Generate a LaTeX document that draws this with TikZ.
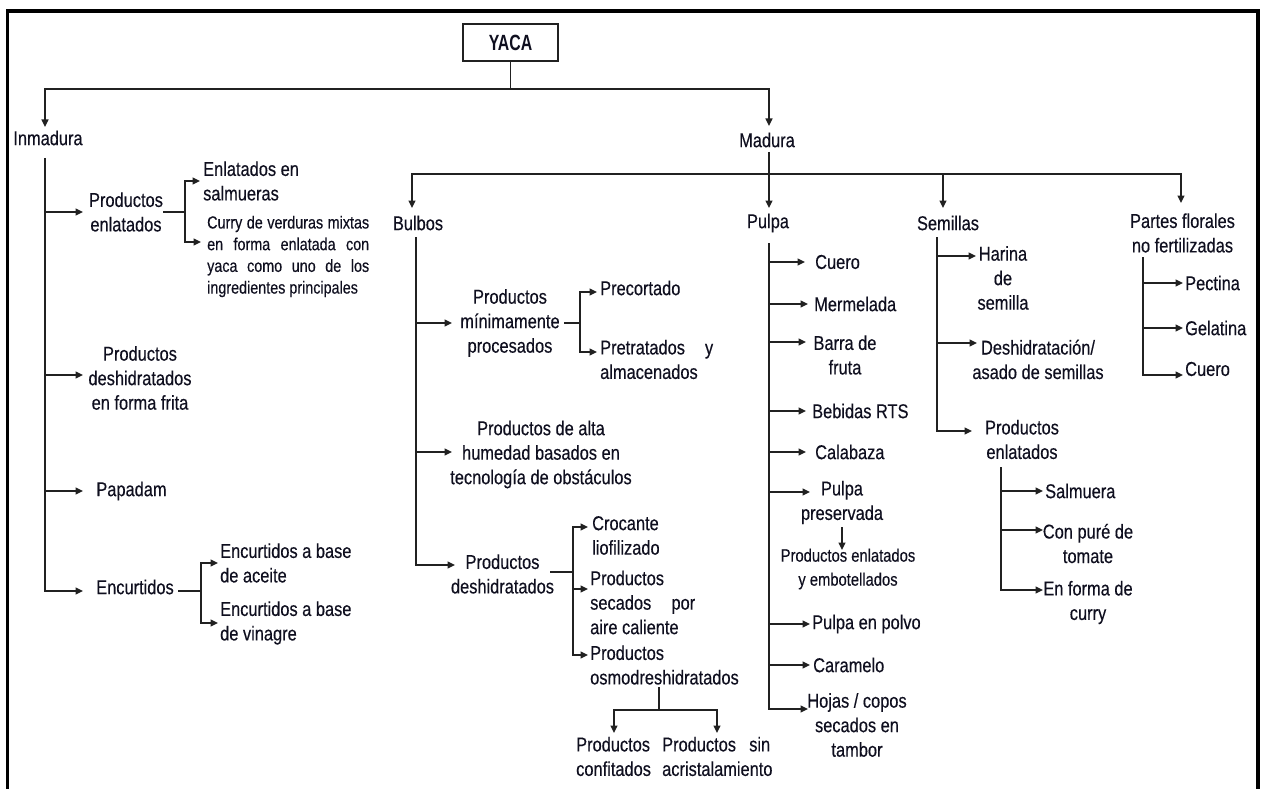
\documentclass[tikz,border=0pt]{standalone}
\usepackage{fontspec}
\setmainfont{Liberation Sans}[FakeStretch=0.82, FakeBold=0.35]
\newfontfamily\titlefont{Liberation Sans}[FakeStretch=0.72]
\usetikzlibrary{arrows.meta}
\definecolor{ink}{rgb}{0.06,0.06,0.12}
\definecolor{wirec}{rgb}{0.13,0.13,0.13}
\newcommand\mainsize{\fontsize{20}{24.5}\selectfont}
\newcommand\smallsize{\fontsize{17.5}{21.7}\selectfont}
\newcommand\midsize{\fontsize{18}{24}\selectfont}

\begin{document}
\begin{tikzpicture}[x=1pt,y=-1pt,
  lbl/.style={inner sep=0pt, font=\mainsize, text=ink},
  lblc/.style={lbl, align=center},
  lbll/.style={lbl, align=left, anchor=west},
  wire/.style={draw=wirec, line width=1.5pt},
  arr/.style={wire, -{Triangle[length=7.5pt,width=7pt]}},
]
\useasboundingbox (0,0) rectangle (1269,789);

% outer frame, open at the bottom
\draw[line width=3.3pt, black] (7.7,789) -- (7.7,11) -- (1258,11) -- (1258,789);

% ---------- root ----------
\node[draw=wirec, line width=1.5pt, minimum width=95pt, minimum height=37pt,
      inner sep=0pt, text=ink, font=\titlefont\bfseries\fontsize{22}{26}\selectfont]
      (yaca) at (510.5,42.5) {YACA};
\coordinate (j0) at (510.5,89);
\coordinate (t-inm) at (45,127);
\coordinate (t-mad) at (769,126);
\draw[wire] (yaca.south) -- (j0);
\draw[arr] (j0) -| (t-inm);
\draw[arr] (j0) -| (t-mad);

\node[lbl] (inm) at (48,138) {Inmadura};
\node[lbl] (mad) at (767,140) {Madura};

% ---------- Inmadura ----------
\coordinate (inm-o) at (45,158);
\coordinate (t-pe)  at (83,212);
\coordinate (t-pd)  at (83,375);
\coordinate (t-pap) at (83,491);
\coordinate (t-enc) at (83,591);
\draw[arr] (inm-o) |- (t-enc);
\draw[arr] (inm-o |- t-pe) -- (t-pe);
\draw[arr] (inm-o |- t-pd) -- (t-pd);
\draw[arr] (inm-o |- t-pap) -- (t-pap);

\node[lblc] (pe)  at (126,212) {Productos\\enlatados};
\node[lblc] (pd)  at (140,378) {Productos\\deshidratados\\en forma frita};
\node[lbl]  (pap) at (131.5,491) {Papadam};
\node[lbl]  (enc) at (135,587) {Encurtidos};

% canned products
\coordinate (pe-o) at (163,212);
\coordinate (pe-j) at (185,212);
\coordinate (t-es) at (200,181);
\coordinate (t-cu) at (201,242);
\draw[wire] (pe-o) -- (pe-j);
\draw[arr] (pe-j) |- (t-es);
\draw[arr] (pe-j) |- (t-cu);
\node[lbll] (es) at (203,181) {Enlatados en\\salmueras};
\node[lbll, font=\smallsize] (cu) at (207,256.5)
  {\makebox[162pt][s]{Curry de verduras mixtas}\\
   \makebox[162pt][s]{en forma enlatada con}\\
   \makebox[162pt][s]{yaca como uno de los}\\
   ingredientes principales};

% pickles
\coordinate (enc-o) at (178,591);
\coordinate (enc-j) at (201,591);
\coordinate (t-ea) at (218,563);
\coordinate (t-ev) at (218,623);
\draw[wire] (enc-o) -- (enc-j);
\draw[arr] (enc-j) |- (t-ea);
\draw[arr] (enc-j) |- (t-ev);
\node[lbll] (ea) at (220,563) {Encurtidos a base\\de aceite};
\node[lbll] (ev) at (220,623) {Encurtidos a base\\de vinagre};

% ---------- Madura ----------
\coordinate (mad-o) at (769,152);
\coordinate (hM) at (769,174);
\coordinate (t-bul) at (412,208);
\coordinate (t-pul) at (769,208);
\coordinate (t-sem) at (943,208);
\coordinate (t-pf)  at (1181,203);
\draw[arr] (mad-o) -- (t-pul);
\draw[arr] (hM) -| (t-bul);
\draw[arr] (hM) -| (t-sem);
\draw[arr] (hM) -| (t-pf);

\node[lbl]  (bul) at (418,223) {Bulbos};
\node[lbl]  (pul) at (768,223) {Pulpa};
\node[lbl]  (sem) at (948,223) {Semillas};
\node[lblc] (pf)  at (1182.5,233) {Partes florales\\no fertilizadas};

% ---------- Bulbos ----------
\coordinate (bul-o) at (416,237);
\coordinate (t-pmp) at (452,323);
\coordinate (t-pah) at (452,452);
\coordinate (t-pdh) at (455,565);
\draw[arr] (bul-o) |- (t-pdh);
\draw[arr] (bul-o |- t-pmp) -- (t-pmp);
\draw[arr] (bul-o |- t-pah) -- (t-pah);

\node[lblc] (pmp) at (510,323) {Productos\\mínimamente\\procesados};
\node[lblc] (pah) at (541,454.5) {Productos de alta\\humedad basados en\\tecnología de obstáculos};
\node[lblc] (pdh) at (502.5,574) {Productos\\deshidratados};

% minimally processed
\coordinate (pmp-o) at (564,323);
\coordinate (pmp-j) at (580,323);
\coordinate (t-pre) at (597,292);
\coordinate (t-ptr) at (597,352);
\draw[wire] (pmp-o) -- (pmp-j);
\draw[arr] (pmp-j) |- (t-pre);
\draw[arr] (pmp-j) |- (t-ptr);
\node[lbll] (pre) at (600,288) {Precortado};
\node[lbll] (ptr) at (600,359.5) {\makebox[113pt][s]{Pretratados y}\\almacenados};

% dehydrated
\coordinate (pdh-o) at (550,572);
\coordinate (pdh-j) at (573,572);
\coordinate (t-cro) at (588,527);
\coordinate (t-psa) at (588,589);
\coordinate (t-pos) at (588,655);
\draw[wire] (pdh-o) -- (pdh-j);
\draw[arr] (pdh-j) |- (t-cro);
\draw[arr] (pdh-j) |- (t-pos);
\draw[arr] (pdh-j |- t-psa) -- (t-psa);
\node[lbll] (cro) at (592,535.5) {Crocante\\liofilizado};
\node[lbll] (psa) at (590,602.5) {Productos\\\makebox[105pt][s]{secados por}\\aire caliente};
\node[lbll] (pos) at (590,665) {Productos\\osmodreshidratados};

% osmotic dehydration
\coordinate (pos-o) at (659,687);
\coordinate (pos-j) at (659,710);
\coordinate (t-pc) at (614,733);
\coordinate (t-ps) at (717,733);
\draw[wire] (pos-o) -- (pos-j);
\draw[arr] (pos-j) -| (t-pc);
\draw[arr] (pos-j) -| (t-ps);
\node[lbll] (pc) at (576,756.5) {Productos\\confitados};
\node[lbll] (ps) at (662,756.5) {\makebox[108pt][s]{Productos sin}\\acristalamiento};

% ---------- Pulpa ----------
\coordinate (pul-o) at (769,243);
\coordinate (t-cue) at (805,262);
\coordinate (t-mer) at (808,304);
\coordinate (t-bar) at (806,342);
\coordinate (t-beb) at (806,411);
\coordinate (t-cal) at (806,452);
\coordinate (t-pp)  at (810,492);
\coordinate (t-ppo) at (810,624);
\coordinate (t-car) at (810,665);
\coordinate (t-hoj) at (808,709);
\draw[arr] (pul-o) |- (t-hoj);
\foreach \t in {cue,mer,bar,beb,cal,pp,ppo,car}
  \draw[arr] (pul-o |- t-\t) -- (t-\t);

\node[lbll] (cue) at (815,262) {Cuero};
\node[lbll] (mer) at (814,304) {Mermelada};
\node[lblc] (bar) at (845,355) {Barra de\\fruta};
\node[lbll] (beb) at (812,411) {Bebidas RTS};
\node[lbll] (cal) at (815,452) {Calabaza};
\node[lblc] (pp)  at (842,502.5) {Pulpa\\preservada};
\node[lblc, font=\midsize] (pea) at (848,569) {Productos enlatados\\y embotellados};
\coordinate (pp-o) at (842,527);
\coordinate (t-pea) at (842,550);
\draw[arr] (pp-o) -- (t-pea);
\node[lbll] (ppo) at (812,624) {Pulpa en polvo};
\node[lbll] (car) at (813,665) {Caramelo};
\node[lblc] (hoj) at (857,725) {Hojas / copos\\secados en\\tambor};

% ---------- Semillas ----------
\coordinate (sem-o) at (937,237);
\coordinate (t-har) at (976,256);
\coordinate (t-des) at (977,343);
\coordinate (t-sen) at (972,431);
\draw[arr] (sem-o) |- (t-sen);
\draw[arr] (sem-o |- t-har) -- (t-har);
\draw[arr] (sem-o |- t-des) -- (t-des);
\node[lblc] (har) at (1003,278) {Harina\\de\\semilla};
\node[lblc] (des) at (1038,359.5) {Deshidratación/\\asado de semillas};
\node[lblc] (sen) at (1022,439.5) {Productos\\enlatados};

\coordinate (sen-o) at (1001,467);
\coordinate (t-sal) at (1043,491);
\coordinate (t-con) at (1043,530);
\coordinate (t-enf) at (1043,590);
\draw[arr] (sen-o) |- (t-enf);
\draw[arr] (sen-o |- t-sal) -- (t-sal);
\draw[arr] (sen-o |- t-con) -- (t-con);
\node[lbll] (sal) at (1045,491) {Salmuera};
\node[lblc] (con) at (1088,543.5) {Con puré de\\tomate};
\node[lblc] (enf) at (1088,602.5) {En forma de\\curry};

% ---------- Partes florales ----------
\coordinate (pf-o) at (1143,257);
\coordinate (t-pec) at (1183,283);
\coordinate (t-gel) at (1183,328);
\coordinate (t-cu2) at (1183,375);
\draw[arr] (pf-o) |- (t-cu2);
\draw[arr] (pf-o |- t-pec) -- (t-pec);
\draw[arr] (pf-o |- t-gel) -- (t-gel);
\node[lbll] (pec) at (1185,283) {Pectina};
\node[lbll] (gel) at (1185,328) {Gelatina};
\node[lbll] (cu2) at (1185,369) {Cuero};
\end{tikzpicture}
\end{document}
